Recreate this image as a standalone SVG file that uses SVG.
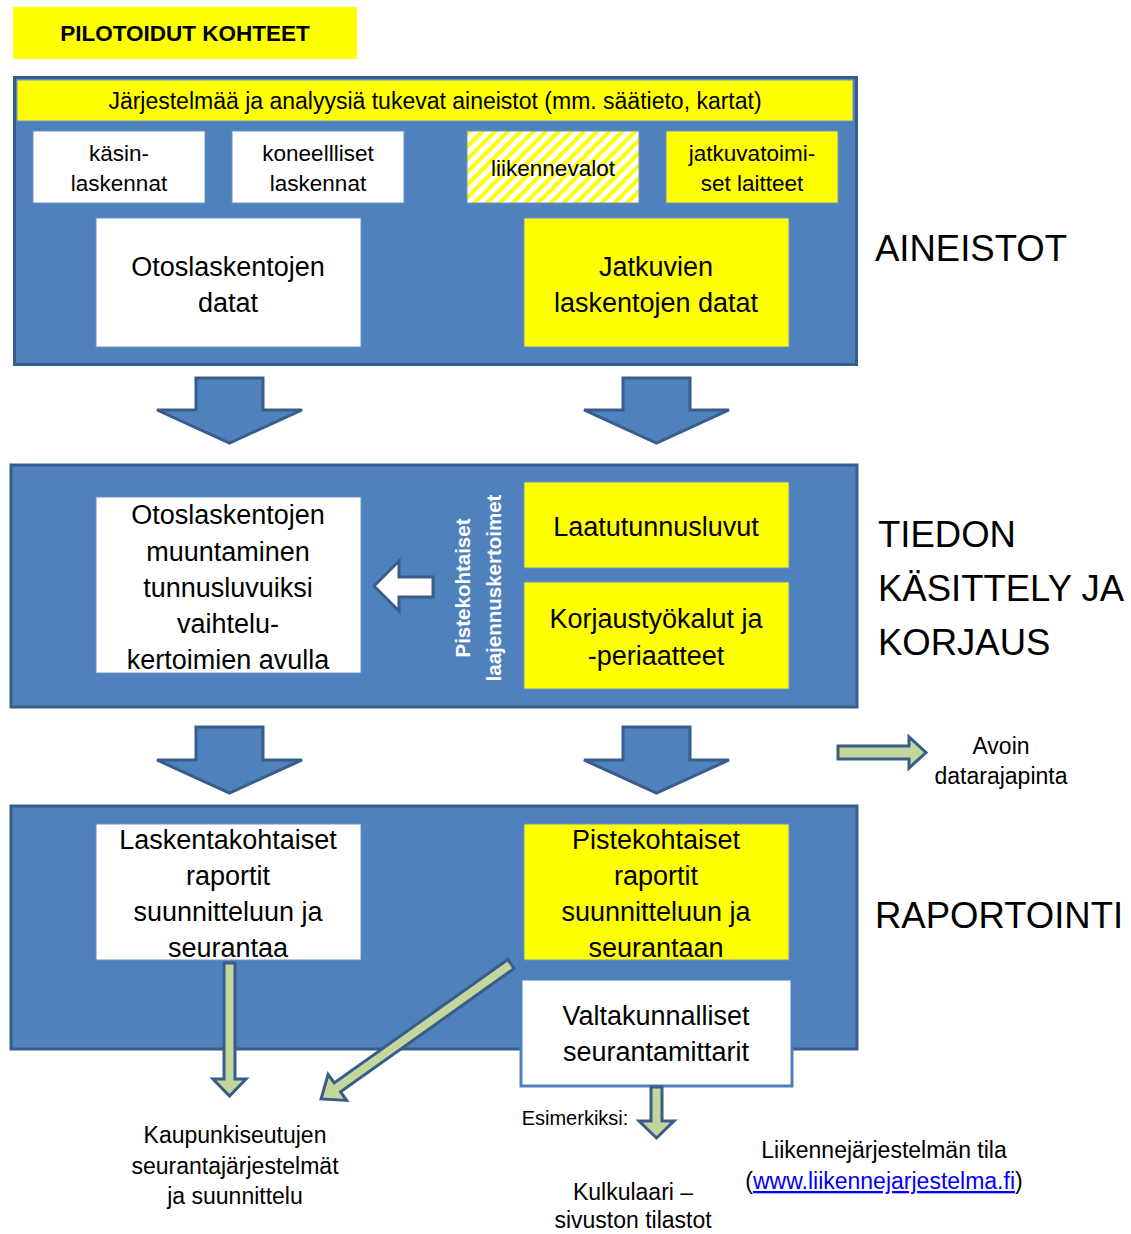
<svg xmlns="http://www.w3.org/2000/svg" width="1131" height="1234" viewBox="0 0 1131 1234">
<style>
text{font-family:"Liberation Sans",Arial,sans-serif;fill:#000;text-anchor:middle}
.panel{fill:#4F81BD;stroke:#385D8A;stroke-width:3}
.wb{fill:#fff;stroke:#6C93C7;stroke-width:1}
.yb{fill:#FFFF00;stroke:#6C93C7;stroke-width:1}
.blk{fill:#4F81BD;stroke:#385D8A;stroke-width:3;stroke-linejoin:miter}
.grn{fill:#C3D69B;stroke:#385D8A;stroke-width:3;stroke-linejoin:miter}
.t20{font-size:22.5px}
.t23{font-size:23px}
.t25{font-size:27px}
.big{font-size:36.5px;text-anchor:start}
.rot{font-size:20.5px;font-weight:bold;fill:#fff}
</style>
<defs>
<pattern id="hatch" width="9" height="9" patternUnits="userSpaceOnUse" patternTransform="rotate(45)">
<rect width="9" height="9" fill="#fff"/>
<rect width="4" height="9" fill="#FFFF00"/>
</pattern>
</defs>
<rect width="1131" height="1234" fill="#fff"/>

<g id="title">
<rect x="13" y="7" width="344" height="52" fill="#FFFF00"/>
<text x="185" y="41" style="font-size:22.5px;font-weight:bold">PILOTOIDUT KOHTEET</text>
</g>

<g id="panel-aineistot">
<rect class="panel" x="14.5" y="77.5" width="842" height="287"/>
<rect class="yb" x="17" y="80" width="836" height="41"/>
<text class="t23" x="435" y="109">Järjestelmää ja analyysiä tukevat aineistot (mm. säätieto, kartat)</text>
</g>
<g id="kasin"><rect class="wb" x="33" y="131" width="172" height="72"/><text class="t20" x="119" y="161">käsin-</text><text class="t20" x="119" y="191">laskennat</text></g>
<g id="koneelliset"><rect class="wb" x="232" y="131" width="172" height="72"/><text class="t20" x="318" y="161">koneellliset</text><text class="t20" x="318" y="191">laskennat</text></g>
<g id="liikennevalot"><rect x="467" y="131" width="172" height="72" fill="url(#hatch)" stroke="#6C93C7" stroke-width="1"/><text class="t20" x="553" y="176">liikennevalot</text></g>
<g id="jatkuvatoimiset"><rect class="yb" x="666" y="131" width="172" height="72"/><text class="t20" x="752" y="161">jatkuvatoimi-</text><text class="t20" x="752" y="191">set laitteet</text></g>
<g id="otos-datat"><rect class="wb" x="96" y="218" width="265" height="129"/><text class="t25" x="228" y="276">Otoslaskentojen</text><text class="t25" x="228" y="312">datat</text></g>
<g id="jatkuvien-datat"><rect class="yb" x="524" y="218" width="265" height="129"/><text class="t25" x="656" y="276">Jatkuvien</text><text class="t25" x="656" y="312">laskentojen datat</text></g>
<text class="big" x="875" y="261">AINEISTOT</text>

<g id="panel-kasittely">
<rect class="panel" x="11" y="465" width="846" height="242"/>
</g>
<g id="muuntaminen"><rect class="wb" x="96" y="497" width="265" height="176"/>
<text class="t25" x="228" y="524">Otoslaskentojen</text>
<text class="t25" x="228" y="561">muuntaminen</text>
<text class="t25" x="228" y="597">tunnusluvuiksi</text>
<text class="t25" x="228" y="633">vaihtelu-</text>
<text class="t25" x="228" y="669">kertoimien avulla</text>
</g>
<g id="laajennuskertoimet">
<text class="rot" transform="translate(470,588) rotate(-90)">Pistekohtaiset</text>
<text class="rot" transform="translate(501,588) rotate(-90)">laajennuskertoimet</text>
</g>
<g id="laatu"><rect class="yb" x="524" y="482" width="265" height="86"/><text class="t25" x="656" y="536">Laatutunnusluvut</text></g>
<g id="korjaus"><rect class="yb" x="524" y="582" width="265" height="107"/><text class="t25" x="656" y="628">Korjaustyökalut ja</text><text class="t25" x="656" y="665">-periaatteet</text></g>
<text class="big" x="878" y="547">TIEDON</text>
<text class="big" x="878" y="601">KÄSITTELY JA</text>
<text class="big" x="878" y="655">KORJAUS</text>

<g id="panel-raportointi">
<rect class="panel" x="11" y="806" width="846" height="243"/>
</g>
<g id="laskentakohtaiset"><rect class="wb" x="96" y="824" width="265" height="136"/>
<text class="t25" x="228" y="849">Laskentakohtaiset</text>
<text class="t25" x="228" y="885">raportit</text>
<text class="t25" x="228" y="921">suunnitteluun ja</text>
<text class="t25" x="228" y="957">seurantaa</text>
</g>
<g id="pistekohtaiset"><rect class="yb" x="524" y="824" width="265" height="136"/>
<text class="t25" x="656" y="849">Pistekohtaiset</text>
<text class="t25" x="656" y="885">raportit</text>
<text class="t25" x="656" y="921">suunnitteluun ja</text>
<text class="t25" x="656" y="957">seurantaan</text>
</g>
<g id="valtakunnalliset"><rect x="521" y="979" width="271" height="107" fill="#fff" stroke="#4F81BD" stroke-width="3"/>
<text class="t25" x="656" y="1025">Valtakunnalliset</text>
<text class="t25" x="656" y="1061">seurantamittarit</text>
</g>
<text class="big" x="875" y="928">RAPORTOINTI</text>

<g id="connectors">
<path class="blk" d="M196,378 H263 V410 H302 L229.5,443 L157,410 H196 Z"/>
<path class="blk" d="M623,378 H690 V410 H729 L656.5,443 L584,410 H623 Z"/>
<path class="blk" d="M196,727 H263 V760 H302 L229.5,793 L157,760 H196 Z"/>
<path class="blk" d="M623,727 H690 V760 H729 L656.5,793 L584,760 H623 Z"/>
<path d="M433,577 V597 H399 V611 L374,586 L399,561 V577 Z" fill="#fff" stroke="#385D8A" stroke-width="3"/>
<path class="grn" d="M838,746 H909 V737 L926,752.5 L909,768 V759 H838 Z"/>
<path class="grn" d="M224,963 H235 V1079 H246 L229.5,1096 L213,1079 H224 Z"/>
<path class="grn" transform="translate(511,964) rotate(144.6)" d="M0,-5.5 H213 V-16 L233,0 L213,16 V5.5 H0 Z"/>
<path class="grn" d="M651,1087 H662 V1121 H674 L656.5,1138 L639,1121 H651 Z"/>
</g>

<g id="labels">
<text class="t23" x="1001" y="754">Avoin</text>
<text class="t23" x="1001" y="784">datarajapinta</text>
<text x="575" y="1125" style="font-size:20px">Esimerkiksi:</text>
<text class="t23" x="235" y="1143">Kaupunkiseutujen</text>
<text class="t23" x="235" y="1174">seurantajärjestelmät</text>
<text class="t23" x="235" y="1204">ja suunnittelu</text>
<text class="t23" x="633" y="1200">Kulkulaari –</text>
<text class="t23" x="633" y="1228">sivuston tilastot</text>
<text class="t23" x="884" y="1158">Liikennejärjestelmän tila</text>
<text class="t23" x="884" y="1189">(<tspan fill="#0000FF" text-decoration="underline">www.liikennejarjestelma.fi</tspan>)</text>
</g>
</svg>
